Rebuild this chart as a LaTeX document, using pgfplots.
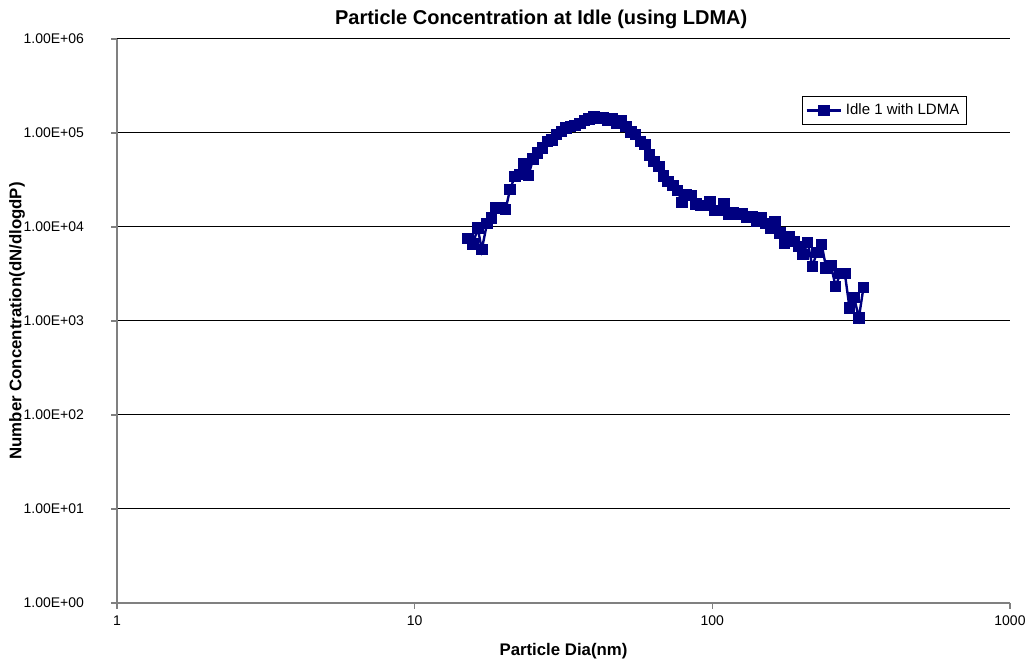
\documentclass[border=0pt]{standalone}
\usepackage{pgfplots}
\pgfplotsset{compat=1.18}
\usepackage{fontspec}
\setmainfont{Liberation Sans}
\definecolor{navyline}{RGB}{0,0,128}

\begin{document}
\begin{tikzpicture}
\begin{axis}[
  width=446.5pt, height=282pt, scale only axis,
  xmode=log, ymode=log,
  xmin=1, xmax=1000, ymin=1, ymax=1e6,
  axis lines=left,
  axis line style={-, draw=gray, line width=0.6pt},
  tick align=outside,
  major tick length=3pt,
  tick style={draw=gray, line width=0.6pt},
  minor tick num=0,
  xtick={1,10,100,1000}, xticklabels={1,10,100,1000},
  ytick={1,10,100,1000,10000,100000,1000000},
  yticklabels={1.00E+00,1.00E+01,1.00E+02,1.00E+03,1.00E+04,1.00E+05,1.00E+06},
  xminorticks=false, yminorticks=false,
  ymajorgrids, major grid style={black, line width=0.5pt},
  ticklabel style={font=\fontsize{7}{8}\selectfont},
  yticklabel style={xshift=-10pt},
  title={Particle Concentration at Idle (using LDMA)},
  title style={at={(axis description cs:0.475,1)}, anchor=center, yshift=4pt,
    font=\bfseries\fontsize{10}{12}\selectfont},
  xlabel={Particle Dia(nm)},
  xlabel style={at={(axis description cs:0.5,0)}, anchor=center, yshift=-24pt,
    font=\bfseries\fontsize{8.4}{10}\selectfont},
  ylabel={Number Concentration(dN/dlogdP)},
  ylabel style={at={(axis description cs:-0.112,0.5)}, anchor=center, rotate=0,
    font=\bfseries\fontsize{8.4}{10}\selectfont},
  legend style={at={(axis description cs:0.767,0.899)}, anchor=north west,
    draw=black, line width=0.5pt, font=\fontsize{7.5}{9}\selectfont,
    inner sep=1.5pt, row sep=0pt},
  legend image post style={line width=1.2pt},
  clip=false,
]
\addplot+[navyline, line width=1.2pt, mark=square*, mark size=2.3pt,
  mark options={fill=navyline, draw=navyline, solid}]
coordinates {
(15.1,7508) (15.7,6594) (16.3,9759) (16.8,5734) (17.5,10842) (18.1,12466)
(18.8,16160) (19.5,15849) (20.2,15277) (20.9,24940) (21.7,34530) (22.5,36010)
(23.3,46570) (24.1,35400) (25.0,52900) (25.9,60980) (26.9,69250) (27.9,81400)
(28.9,84850) (30.0,95920) (31.1,104000) (32.2,113000) (33.4,117600) (34.6,120500)
(35.9,125600) (37.2,136100) (38.5,141900) (40.0,150200) (41.4,144400) (42.9,144400)
(44.5,136100) (46.1,141900) (47.8,127800) (49.6,136100) (51.4,117600) (53.3,102500)
(55.2,95920) (57.3,81400) (59.4,75080) (61.5,58760) (63.8,49520) (66.1,43800)
(68.5,35130) (71.0,30560) (73.7,27710) (76.4,24510) (79.1,18270) (82.0,22060)
(85.1,21530) (88.2,17560) (91.4,16850) (94.7,16850) (98.2,18450) (101.8,15020)
(105.5,15020) (109.4,17560) (113.4,13750) (117.6,14090) (121.9,13750) (126.3,13850)
(131.0,12650) (135.8,12970) (140.7,11470) (145.9,12470) (151.2,10840) (156.8,9760)
(162.5,11470) (168.5,8636) (174.7,6759) (181.1,7828) (187.7,7028) (194.6,6218)
(201.7,5074) (209.1,6859) (216.7,3809) (224.7,5369) (232.9,6482) (241.4,3663)
(250.3,3904) (259.5,2334) (269.0,3186) (278.8,3186) (289.0,1375) (299.6,1783)
(310.6,1076) (322.0,2278)
};
\addlegendentry{Idle 1 with LDMA}
\end{axis}
\pgfresetboundingbox
\path (current axis.south west) ++(-58.5pt,-30pt) coordinate (bbA);
\path (current axis.north east) ++(11pt,19.5pt) coordinate (bbB);
\useasboundingbox (bbA) rectangle (bbB);
\end{tikzpicture}
\end{document}
